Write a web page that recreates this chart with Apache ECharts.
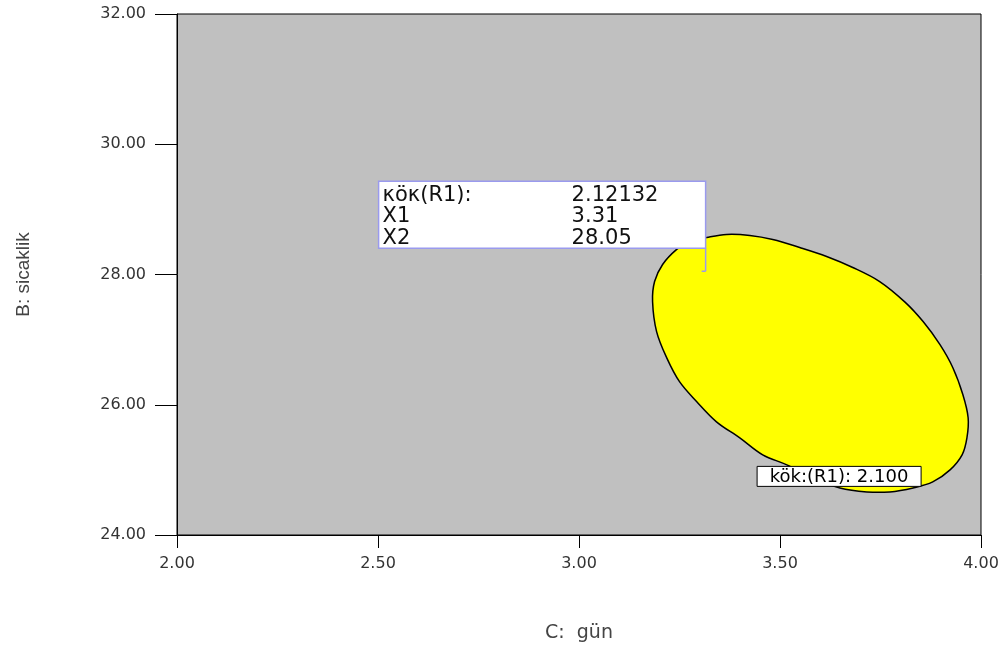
<!DOCTYPE html>
<html>
<head>
<meta charset="utf-8">
<script src="https://cdn.jsdelivr.net/npm/echarts@6/dist/echarts.min.js"></script>
<style>html,body{margin:0;padding:0;background:#fff;}#c{width:1008px;height:650px;}</style>
</head>
<body>
<div id="c"></div>
<script>
// Contour kök(R1) = 2.100 boundary (C: gün, B: sicaklik)
var contourX = [3.318,3.367,3.425,3.482,3.549,3.616,3.681,3.748,3.811,3.856,3.898,3.930,3.955,3.968,3.965,3.953,3.923,3.880,3.831,3.773,3.716,3.649,3.582,3.517,3.457,3.400,3.342,3.293,3.250,3.218,3.193,3.183,3.188,3.208,3.243,3.275];
var contourY = [28.569,28.615,28.600,28.538,28.415,28.277,28.108,27.892,27.576,27.277,26.923,26.569,26.154,25.800,25.492,25.231,25.000,24.815,24.723,24.662,24.662,24.723,24.877,25.077,25.231,25.492,25.738,26.046,26.354,26.723,27.123,27.585,27.892,28.154,28.385,28.508];
var contourLabel = 'kök:(R1): 2.100';
var contourLabelPos = [3.647, 24.90];
// Flag point
var flagPoint = [3.31, 28.05];
var flagNames = ['κöκ(R1):', 'X1', 'X2'];
var flagValues = ['2.12132', '3.31', '28.05'];
var xTicks = [2.0, 2.5, 3.0, 3.5, 4.0];
var yTicks = [24, 26, 28, 30, 32];

var chart = echarts.init(document.getElementById('c'), null, {renderer: 'canvas'});
var font = 'Liberation Sans, Arial, sans-serif';
var tickFont = 'DejaVu Sans, sans-serif';
chart.setOption({
  backgroundColor: '#ffffff',
  animation: false,
  grid: {left: 177, right: 27, top: 14, bottom: 115, show: true, backgroundColor: '#c0c0c0', borderColor: '#000', borderWidth: 1,
         containLabel: false, outerBoundsMode: 'none'},
  xAxis: {
    type: 'value', min: xTicks[0], max: xTicks[xTicks.length - 1], interval: 0.5,
    name: 'C:  gün', nameLocation: 'middle', nameGap: 89,
    nameTextStyle: {fontFamily: tickFont, fontSize: 19, color: '#444'},
    axisLine: {show: true, lineStyle: {color: '#000', width: 1}},
    axisTick: {show: true, length: 13, lineStyle: {color: '#000', width: 1}},
    axisLabel: {margin: 21, fontFamily: tickFont, fontSize: 16, color: '#333', formatter: function (v) { return v.toFixed(2); }},
    splitLine: {show: false}
  },
  yAxis: {
    type: 'value', min: yTicks[0], max: yTicks[yTicks.length - 1], interval: 2,
    name: 'B: sicaklik', nameLocation: 'middle', nameGap: 144, nameRotate: 90,
    nameTextStyle: {fontFamily: font, fontSize: 19, color: '#444'},
    axisLine: {show: true, lineStyle: {color: '#000', width: 1}},
    axisTick: {show: true, length: 22, lineStyle: {color: '#000', width: 1}},
    axisLabel: {margin: 31, fontFamily: tickFont, fontSize: 16, color: '#333', formatter: function (v) { return v.toFixed(2); }},
    splitLine: {show: false}
  },
  series: [
    {
      type: 'custom',
      data: [[contourX[0], contourY[0]]],
      clip: true,
      renderItem: function (params, api) {
        var pts = contourX.map(function (x, i) { return api.coord([x, contourY[i]]); });
        return {
          type: 'polygon',
          shape: {points: pts, smooth: 0.35},
          style: {fill: '#ffff00', stroke: '#000', lineWidth: 1.5}
        };
      }
    },
    {
      type: 'custom',
      data: [contourLabelPos],
      renderItem: function (params, api) {
        var p = api.coord([api.value(0), api.value(1)]);
        return {
          type: 'group',
          children: [
            {type: 'rect', shape: {x: p[0] - 82, y: p[1] - 10, width: 164, height: 20},
             style: {fill: '#fff', stroke: '#000', lineWidth: 1}},
            {type: 'text', style: {text: contourLabel, x: p[0], y: p[1] + 1, align: 'center', verticalAlign: 'middle',
              font: '18px ' + tickFont, fill: '#000'}}
          ]
        };
      }
    },
    {
      type: 'custom',
      data: [flagPoint],
      renderItem: function (params, api) {
        var p = api.coord([api.value(0), api.value(1)]);
        var right = p[0] + 2, bottom = p[1] - 23, left = right - 327, top = bottom - 67;
        var children = [
          {type: 'line', shape: {x1: right, y1: bottom, x2: right, y2: p[1]}, style: {stroke: '#9a9aee', lineWidth: 1.5}},
          {type: 'line', shape: {x1: right - 4, y1: p[1], x2: right, y2: p[1]}, style: {stroke: '#9a9aee', lineWidth: 1.5}},
          {type: 'rect', shape: {x: left, y: top, width: 327, height: 67}, style: {fill: '#fff', stroke: '#9a9aee', lineWidth: 1.5}}
        ];
        for (var i = 0; i < flagNames.length; i++) {
          var ty = top + 14 + i * 21.5;
          children.push({type: 'text', style: {text: flagNames[i], x: left + 4, y: ty, verticalAlign: 'middle', font: '21px ' + tickFont, fill: '#111'}});
          children.push({type: 'text', style: {text: flagValues[i], x: left + 193, y: ty, verticalAlign: 'middle', font: '21px ' + tickFont, fill: '#111'}});
        }
        return {type: 'group', children: children};
      }
    }
  ]
});
</script>
</body>
</html>
